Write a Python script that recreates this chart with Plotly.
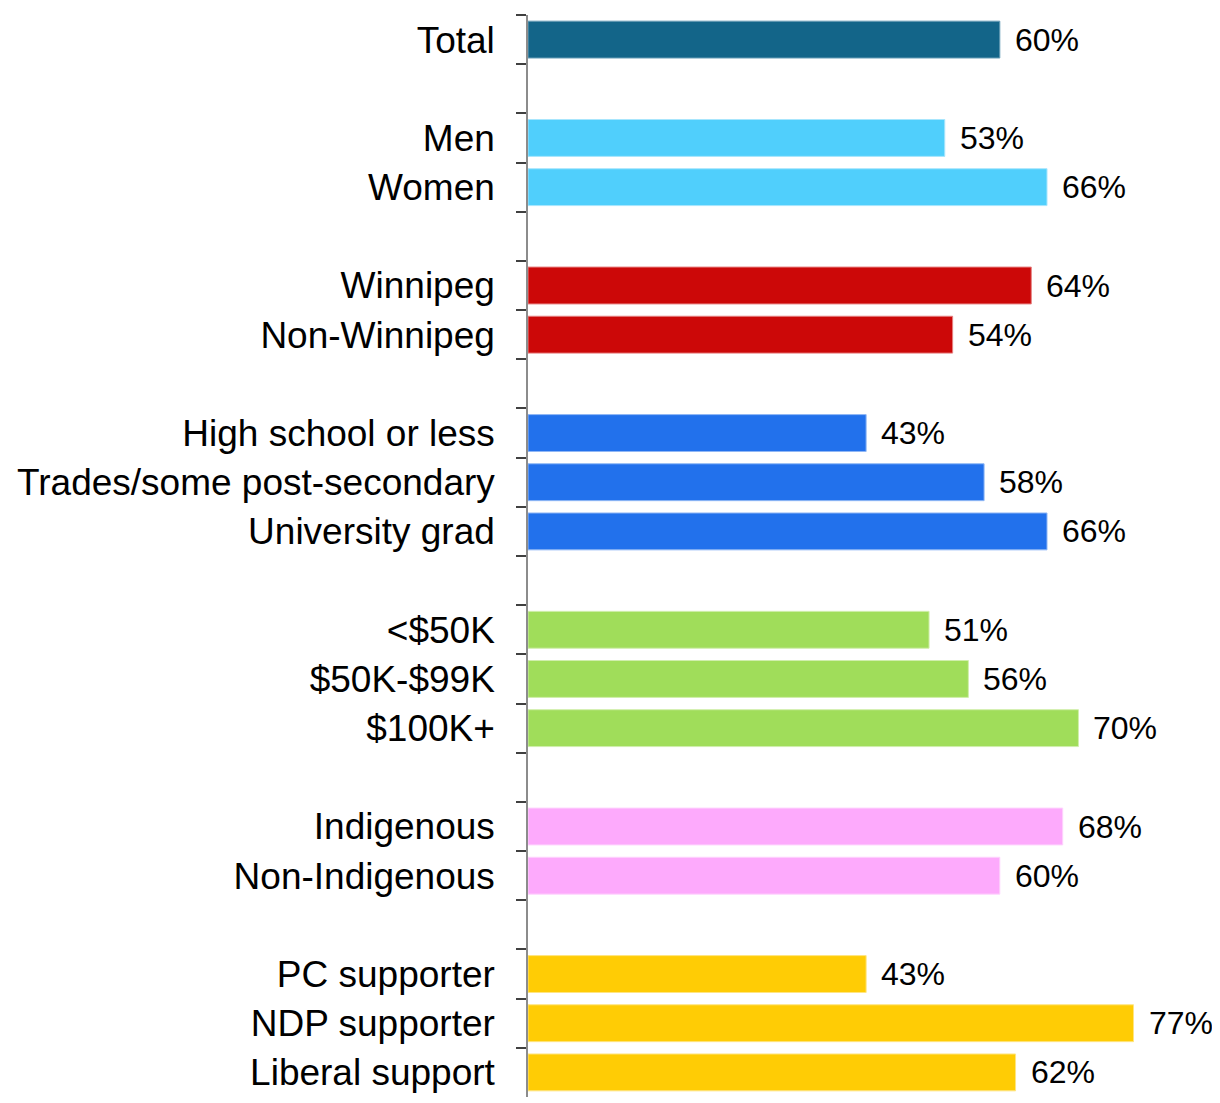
import plotly.graph_objects as go

categories = ["Total", " ", "Men", "Women", "  ", "Winnipeg", "Non-Winnipeg", "   ",
              "High school or less", "Trades/some post-secondary", "University grad", "    ",
              "<$50K", "$50K-$99K", "$100K+", "     ",
              "Indigenous", "Non-Indigenous", "      ",
              "PC supporter", "NDP supporter", "Liberal support"]
values = [60, None, 53, 66, None, 64, 54, None, 43, 58, 66, None, 51, 56, 70, None,
          68, 60, None, 43, 77, 62]
groups = ["total", None, "gender", "gender", None, "region", "region", None,
          "edu", "edu", "edu", None, "inc", "inc", "inc", None,
          "ind", "ind", None, "party", "party", "party"]

group_colors = {"total": "#136589", "gender": "#50cffc", "region": "#cc0808",
                "edu": "#2271ec", "inc": "#a0dd5a", "ind": "#fdaafc", "party": "#ffcc05"}
group_lines = {"total": "#6a9fb8", "gender": "#a8e6fd", "region": "#e68080",
               "edu": "#90b8f5", "inc": "#d0eeac", "ind": "#fed4fd", "party": "#ffe582"}

colors = [group_colors[g] if g else "rgba(0,0,0,0)" for g in groups]
lines = [group_lines[g] if g else "rgba(0,0,0,0)" for g in groups]

fig = go.Figure(go.Bar(
    x=values, y=categories, orientation="h",
    marker=dict(color=colors, line=dict(color=lines, width=1)),
    hoverinfo="skip",
))

for c, v in zip(categories, values):
    if v is None:
        continue
    fig.add_annotation(x=v, y=c, text=f"{v}%", showarrow=False, xanchor="left",
                       xshift=13, font=dict(size=32, color="#000000",
                                            family="Liberation Sans, Arial, sans-serif"))

fig.update_layout(
    width=1212, height=1095,
    margin=dict(l=520, r=0, t=7, b=6, autoexpand=False),
    plot_bgcolor="white", paper_bgcolor="white",
    bargap=0.25, showlegend=False,
    font=dict(family="Liberation Sans, Arial, sans-serif", color="#000000"),
)
fig.update_xaxes(range=[0, 88.0], visible=False)
fig.update_yaxes(
    type="category", categoryorder="array", categoryarray=categories,
    autorange="reversed", tickson="boundaries",
    ticks="outside", ticklen=10, tickcolor="#404040", tickwidth=1.5,
    showline=True, linecolor="#8c8c8c", linewidth=1.5,
    showgrid=False, tickfont=dict(size=37, color="#000000"),
    ticklabelstandoff=24,
)

fig.write_html("out.html")
